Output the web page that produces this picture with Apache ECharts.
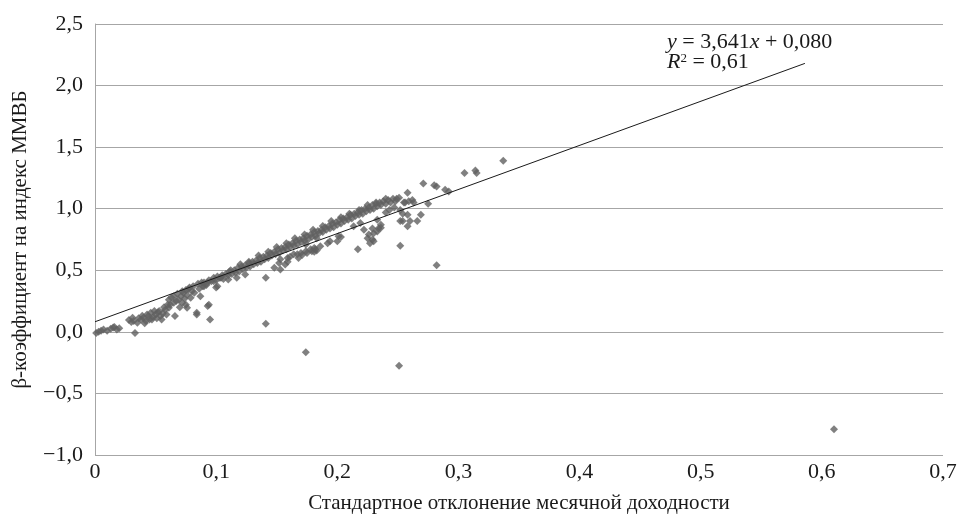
<!DOCTYPE html>
<html>
<head>
<meta charset="utf-8">
<script src="https://cdn.jsdelivr.net/npm/echarts@6/dist/echarts.min.js"></script>
<style>html,body{margin:0;padding:0;background:#fff}#c{width:973px;height:519px}</style>
</head>
<body>
<div id="c"></div>
<script>
// Standard deviation of monthly returns (x) and beta (y)
const sigma = [
0.001,0.003,0.005,0.007,0.010,0.013,0.015,0.016,0.018,0.020,
0.028,0.030,0.031,0.032,0.033,0.035,0.036,0.038,0.039,0.040,0.041,0.042,0.043,0.044,0.045,0.046,0.047,0.048,0.049,0.050,0.051,0.052,0.053,0.054,0.055,0.056,0.057,0.058,0.059,0.060,
0.061,0.061,0.062,0.063,0.065,0.065,0.066,0.067,0.068,0.069,0.070,0.071,0.072,0.072,0.073,0.074,0.075,0.075,0.076,0.076,0.077,0.078,0.079,0.080,0.081,0.082,0.084,0.084,0.085,0.086,0.087,0.088,0.089,
0.090,0.093,0.093,0.094,0.095,0.098,0.100,0.101,0.104,
0.090,0.092,0.094,0.096,0.098,0.100,0.101,0.103,0.105,0.106,0.108,0.110,0.111,0.113,0.115,0.116,0.118,0.119,0.121,0.122,0.124,0.125,0.127,0.128,0.130,0.131,0.133,0.134,0.136,0.137,0.139,0.140,0.142,0.143,0.145,0.146,0.148,0.149,0.151,0.152,0.154,0.155,0.157,0.158,0.160,0.161,0.163,0.164,0.166,0.167,0.169,0.170,0.172,0.173,0.175,0.176,0.178,0.179,0.181,0.182,0.184,0.185,0.187,0.188,0.190,0.191,0.193,0.194,0.196,0.197,0.199,0.200,0.202,0.203,0.205,0.206,0.208,0.209,0.211,0.212,0.214,0.215,0.217,0.218,0.220,0.221,0.223,0.224,0.226,0.227,0.229,0.230,0.232,0.233,0.235,0.236,0.238,0.240,0.242,0.244,0.246,0.248,
0.120,0.135,0.150,0.165,0.180,0.195,0.210,0.225,0.240,0.112,0.127,0.143,0.158,0.173,0.188,0.203,0.218,0.232,
0.110,0.117,0.124,0.141,0.148,0.152,0.153,0.153,0.157,0.159,0.159,0.161,0.164,0.167,0.168,0.170,0.171,0.174,0.175,0.174,0.178,0.179,0.181,0.181,0.183,0.183,0.186,0.182,0.192,0.194,0.201,0.200,0.203,
0.2135,0.217,0.219,0.222,0.225,0.226,0.227,0.229,0.229,0.230,0.230,0.233,0.233,0.234,0.236,0.236,0.240,0.243,0.247,
0.249,0.251,0.252,0.252,0.252,0.251,0.254,0.254,0.255,0.256,0.258,0.258,0.258,0.259,0.260,0.262,0.263,0.266,0.269,0.271,0.275,0.280,0.282,0.282,0.289,0.292,0.305,0.314,0.315,0.337,
0.141,0.174,0.610
];
const beta = [
-0.01,0.00,0.01,0.02,0.01,0.025,0.035,0.04,0.02,0.03,
0.096,0.08,0.115,0.088,-0.01,0.074,0.11,0.10,0.13,0.115,0.07,0.088,0.14,0.128,0.10,0.155,0.10,0.12,0.17,0.14,0.11,0.16,0.17,0.128,0.10,0.15,0.20,0.18,0.14,0.22,
0.196,0.26,0.22,0.28,0.236,0.29,0.128,0.25,0.31,0.26,0.20,0.29,0.236,0.33,0.318,0.27,0.22,0.34,0.30,0.196,0.345,0.36,0.277,0.33,0.37,0.318,0.155,0.14,0.39,0.35,0.29,0.40,0.37,
0.37,0.21,0.40,0.22,0.10,0.41,0.36,0.37,0.44,
0.40,0.38,0.42,0.41,0.44,0.42,0.45,0.44,0.46,0.43,0.47,0.46,0.49,0.47,0.50,0.48,0.52,0.49,0.53,0.51,0.54,0.52,0.56,0.53,0.57,0.55,0.58,0.56,0.60,0.57,0.61,0.59,0.62,0.60,0.64,0.62,0.65,0.63,0.67,0.64,0.68,0.66,0.69,0.67,0.71,0.69,0.72,0.70,0.74,0.71,0.75,0.73,0.76,0.74,0.78,0.75,0.79,0.77,0.81,0.78,0.82,0.80,0.83,0.81,0.85,0.83,0.86,0.84,0.88,0.85,0.89,0.87,0.91,0.88,0.92,0.90,0.93,0.91,0.95,0.92,0.96,0.94,0.97,0.95,0.99,0.96,1.00,0.98,1.01,0.99,1.03,1.00,1.04,1.02,1.05,1.03,1.06,1.04,1.07,1.05,1.08,1.06,
0.55,0.62,0.69,0.76,0.83,0.90,0.96,1.03,1.08,0.50,0.57,0.65,0.72,0.79,0.86,0.93,0.99,1.05,
0.425,0.44,0.465,0.44,0.52,0.56,0.506,0.59,0.547,0.57,0.60,0.61,0.63,0.63,0.60,0.64,0.625,0.655,0.64,0.71,0.67,0.655,0.68,0.65,0.66,0.76,0.695,0.67,0.72,0.735,0.776,0.735,0.77,
0.857,0.67,0.885,0.83,0.76,0.79,0.72,0.75,0.84,0.80,0.735,0.815,0.91,0.84,0.87,0.845,0.97,0.99,1.01,
1.08,1.09,0.99,0.90,0.70,-0.276,0.96,0.90,1.05,1.05,1.13,0.95,0.857,1.06,0.90,1.07,1.05,0.90,0.95,1.205,1.04,1.19,1.18,0.54,1.155,1.14,1.29,1.31,1.29,1.39,
0.065,-0.165,-0.79
];
// Trend line endpoints as drawn in the figure
const trendX = [0, 0.586];
const trendY = [0.082, 2.18];
// Tick labels
const xTickLabels = ['0','0,1','0,2','0,3','0,4','0,5','0,6','0,7'];
const yTickLabels = ['\u22121,0','\u22120,5','0,0','0,5','1,0','1,5','2,0','2,5'];

const points = sigma.map((x, i) => [x, beta[i]]);
const trend = trendX.map((x, i) => [x, trendY[i]]);

const FONT = "'Liberation Serif','Times New Roman',serif";
const chart = echarts.init(document.getElementById('c'), null, {renderer: 'canvas'});
chart.setOption({
  backgroundColor: '#ffffff',
  animation: false,
  grid: {left: 95, right: 30, top: 24, bottom: 64, outerBoundsMode: 'none'},
  xAxis: {
    type: 'value', min: 0, max: 0.7, interval: 0.1,
    axisLine: {show: true, lineStyle: {color: '#a6a6a6', width: 1}},
    axisTick: {show: false},
    splitLine: {show: false},
    axisLabel: {
      fontFamily: FONT, fontSize: 22, color: '#1a1a1a', margin: 6,
      formatter: v => xTickLabels[Math.round(v * 10)]
    },
    name: 'Стандартное отклонение месячной доходности',
    nameLocation: 'middle', nameGap: 38,
    nameTextStyle: {fontFamily: FONT, fontSize: 21, color: '#1a1a1a'}
  },
  yAxis: {
    type: 'value', min: -1, max: 2.5, interval: 0.5,
    axisLine: {show: true, lineStyle: {color: '#a6a6a6', width: 1}},
    axisTick: {show: false},
    splitLine: {show: true, lineStyle: {color: '#a6a6a6', width: 1}},
    axisLabel: {
      fontFamily: FONT, fontSize: 22, color: '#1a1a1a', margin: 12,
      formatter: v => yTickLabels[Math.round((v + 1) * 2)]
    },
    name: 'β-коэффициент на индекс ММВБ',
    nameLocation: 'middle', nameGap: 64,
    nameTextStyle: {fontFamily: FONT, fontSize: 21, color: '#1a1a1a'}
  },
  series: [
    {
      type: 'scatter', data: points, symbol: 'diamond', symbolSize: 8,
      itemStyle: {color: '#606060'}, silent: true, z: 2
    },
    {
      type: 'line', data: trend, showSymbol: false, silent: true,
      lineStyle: {color: '#1a1a1a', width: 1}, z: 3
    }
  ],
  graphic: [{
    type: 'text', left: 667, top: 31, silent: true,
    style: {
      text: '{i|y} = 3,641{i|x} + 0,080\n{i|R}{s|2} = 0,61',
      fontFamily: FONT, fontSize: 22, fill: '#1a1a1a', lineHeight: 20,
      rich: {
        i: {fontFamily: FONT, fontSize: 22, fontStyle: 'italic', fill: '#1a1a1a', lineHeight: 20},
        s: {fontFamily: FONT, fontSize: 13, fill: '#1a1a1a', verticalAlign: 'top', lineHeight: 20}
      }
    }
  }]
});
</script>
</body>
</html>
